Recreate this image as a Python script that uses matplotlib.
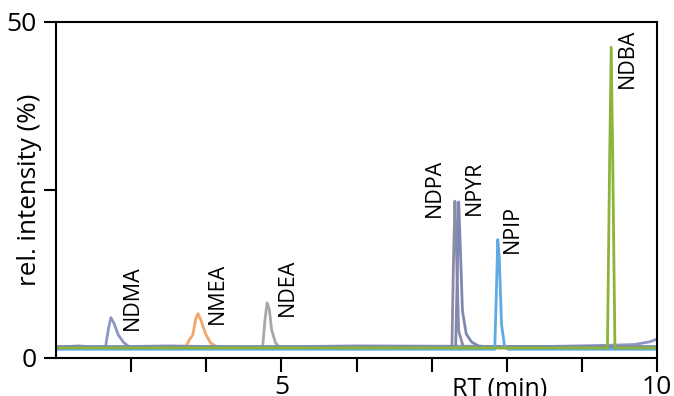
"""Chromatogram of nitrosamine standards (relative intensity vs retention time)."""

import matplotlib.pyplot as plt

plt.rcParams["font.family"] = ["Open Sans", "DejaVu Sans"]

# retention time (min) / relative intensity (%)
ndma_rt = [2.0, 2.3, 2.5, 2.66, 2.7, 2.73, 2.77, 2.83, 2.9, 2.97, 3.5, 4.5, 6.0, 8.5, 9.4, 9.7, 9.9, 10.0]
ndma_int = [1.6, 1.8, 1.6, 1.7, 4.5, 6.0, 5.2, 3.4, 2.3, 1.7, 1.8, 1.6, 1.8, 1.7, 1.9, 2.0, 2.4, 2.8]

nmea_rt = [2.0, 3.72, 3.78, 3.82, 3.86, 3.89, 3.93, 3.99, 4.06, 4.17, 10.0]
nmea_int = [1.5, 1.5, 2.8, 3.4, 5.8, 6.6, 5.6, 3.6, 2.2, 1.5, 1.5]

ndea_rt = [2.0, 4.75, 4.78, 4.81, 4.84, 4.87, 4.92, 4.98, 10.0]
ndea_int = [1.5, 1.5, 5.5, 8.2, 7.2, 4.2, 2.3, 1.5, 1.5]

ndpa_rt = [2.0, 7.27, 7.29, 7.31, 7.33, 7.36, 7.42, 10.0]
ndpa_int = [1.6, 1.6, 14.0, 23.3, 16.0, 4.0, 1.7, 1.6]

npyr_rt = [2.0, 7.32, 7.34, 7.36, 7.38, 7.41, 7.46, 7.53, 7.62, 7.7, 10.0]
npyr_int = [1.7, 1.7, 12.0, 23.2, 17.0, 7.0, 3.6, 2.4, 1.8, 1.7, 1.7]

npip_rt = [2.0, 7.84, 7.86, 7.88, 7.9, 7.93, 7.97, 8.02, 10.0]
npip_int = [1.3, 1.3, 9.0, 17.6, 15.0, 5.0, 1.8, 1.3, 1.3]

ndba_rt = [2.0, 9.34, 9.37, 9.39, 9.41, 9.44, 10.0]
ndba_int = [1.5, 1.5, 30.0, 46.2, 30.0, 1.5, 1.5]

names = ["NDMA", "NMEA", "NDEA", "NDPA", "NPYR", "NPIP", "NDBA"]
label_rt = [3.01, 4.15, 5.08, 7.04, 7.57, 8.08, 9.6]
label_int = [4.1, 5.1, 6.3, 21.0, 21.3, 15.6, 40.1]

traces = [
    (ndma_rt, ndma_int, "#8d97c6"),
    (nmea_rt, nmea_int, "#f2a66c"),
    (ndea_rt, ndea_int, "#a8a8a8"),
    (ndpa_rt, ndpa_int, "#8c8ca2"),
    (npyr_rt, npyr_int, "#7f87b4"),
    (npip_rt, npip_int, "#5eaae2"),
    (ndba_rt, ndba_int, "#8cb43a"),
]


def display(outfile="out.png"):
    fig = plt.figure(figsize=(6.74, 3.96), dpi=100)
    ax = fig.add_axes([0.0831, 0.096, 0.8917, 0.8494])

    for rt, inten, color in traces:
        ax.plot(rt, inten, color=color, lw=2.0, solid_joinstyle="round")

    for name, x, y in zip(names, label_rt, label_int):
        ax.text(x, y, name, rotation=90, ha="center", va="bottom", fontsize=15.5)

    ax.set_xlim(2, 10)
    ax.set_ylim(0, 50)
    ax.set_xticks(range(3, 11))
    ax.set_xticklabels(["", "", "5", "", "", "", "", "10"])
    ax.set_yticks([0, 25, 50])
    ax.set_yticklabels(["0", "", "50"])
    ax.tick_params(axis="x", direction="out", length=10, width=1.5, labelsize=19, pad=2)
    ax.tick_params(axis="y", direction="out", length=9, width=1.5, labelsize=19, pad=5)
    for side in ax.spines.values():
        side.set_linewidth(1.5)

    # y label sits in the tick label column, between "0" and "50"
    ax.set_ylabel("rel. intensity (%)", fontsize=18.7)
    ax.yaxis.set_label_coords(-0.024, 0.5)
    ax.text(7.9, -2.8, "RT (min)", ha="center", va="top", fontsize=18, clip_on=False)

    plt.savefig(outfile, dpi=100)
    plt.close()


if __name__ == "__main__":
    display()
